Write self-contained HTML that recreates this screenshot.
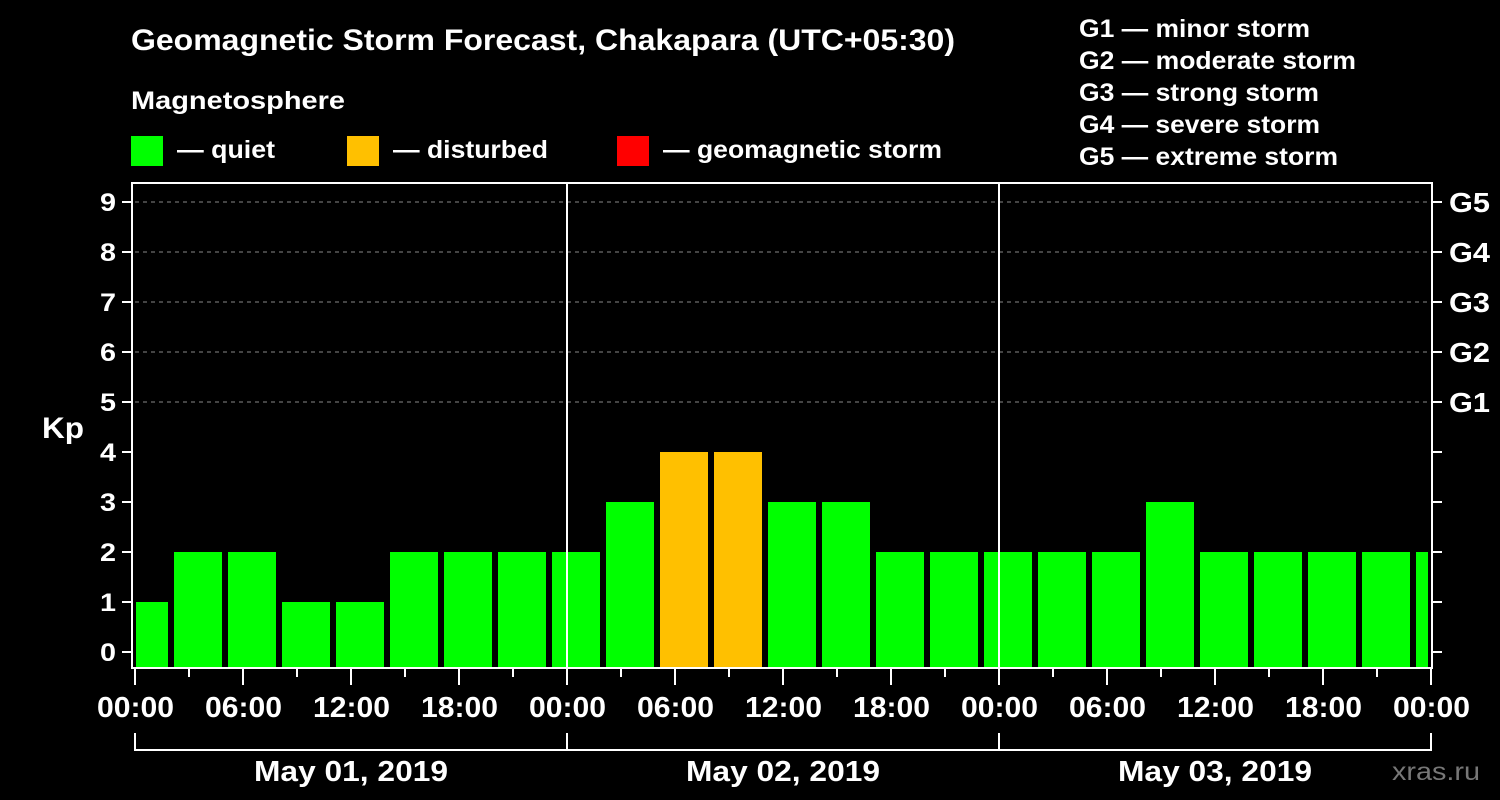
<!DOCTYPE html>
<html><head><meta charset="utf-8"><style>
html,body{margin:0;padding:0;background:#000;}
svg{display:block;font-family:"Liberation Sans",Arial,sans-serif;font-weight:bold;}
</style></head><body>
<svg id="c" width="1500" height="800" viewBox="0 0 1500 800">
<rect width="1500" height="800" fill="#000"/>
<text x="131" y="50" fill="#fff" font-size="30" textLength="824" lengthAdjust="spacingAndGlyphs">Geomagnetic Storm Forecast, Chakapara (UTC+05:30)</text>
<text x="131" y="109" fill="#fff" font-size="25" textLength="214" lengthAdjust="spacingAndGlyphs">Magnetosphere</text>
<g><rect x="131" y="136" width="32" height="30" fill="#00ff00"/><text x="177" y="158" fill="#fff" font-size="25" textLength="98" lengthAdjust="spacingAndGlyphs">— quiet</text></g>
<g><rect x="347" y="136" width="32" height="30" fill="#ffc000"/><text x="393" y="158" fill="#fff" font-size="25" textLength="155" lengthAdjust="spacingAndGlyphs">— disturbed</text></g>
<g><rect x="617" y="136" width="32" height="30" fill="#ff0000"/><text x="663" y="158" fill="#fff" font-size="25" textLength="279" lengthAdjust="spacingAndGlyphs">— geomagnetic storm</text></g>
<g fill="#fff" font-size="25">
<text x="1079" y="37" textLength="231" lengthAdjust="spacingAndGlyphs">G1 — minor storm</text>
<text x="1079" y="69" textLength="277" lengthAdjust="spacingAndGlyphs">G2 — moderate storm</text>
<text x="1079" y="101" textLength="240" lengthAdjust="spacingAndGlyphs">G3 — strong storm</text>
<text x="1079" y="133" textLength="241" lengthAdjust="spacingAndGlyphs">G4 — severe storm</text>
<text x="1079" y="165" textLength="259" lengthAdjust="spacingAndGlyphs">G5 — extreme storm</text>
</g>
<text x="42" y="438" fill="#fff" font-size="30" textLength="42" lengthAdjust="spacingAndGlyphs">Kp</text>
<text x="1392" y="780" fill="#777" font-size="25" font-weight="normal" textLength="88" lengthAdjust="spacingAndGlyphs">xras.ru</text>
<g id="grid"></g><g id="bars"></g><g id="axes"></g>
</svg>
<script>
const kpValues=[1,2,2,1,1,2,2,2,2,3,4,4,3,3,2,2,2,2,2,3,2,2,2,2,2];
const yTicks=[0,1,2,3,4,5,6,7,8,9];
const gLabels=["G1","G2","G3","G4","G5"];
const gLevels=[5,6,7,8,9];
const xTickLabels=["00:00","06:00","12:00","18:00","00:00","06:00","12:00","18:00","00:00","06:00","12:00","18:00","00:00"];
const dayLabels=["May 01, 2019","May 02, 2019","May 03, 2019"];
const NS="http://www.w3.org/2000/svg";
const X0=135,X1=1430,Y0=668,TOP=183;
const xs=h=>X0+h*18;
const ys=v=>652-v*50;
function mk(t,a,p){const e=document.createElementNS(NS,t);for(const k in a)e.setAttribute(k,a[k]);p.appendChild(e);return e;}
const grid=document.getElementById('grid'),bars=document.getElementById('bars'),axes=document.getElementById('axes');
gLevels.forEach(v=>{const l=mk('line',{x1:X0,x2:X1,y1:ys(v),y2:ys(v),stroke:'#888','stroke-width':1,'stroke-dasharray':'4,4'},grid);

});
kpValues.forEach((v,i)=>{let a=xs(-1+3*i)+3,b=a+48;a=Math.max(a,X0+1);b=Math.min(b,X1-2);if(b<=a)return;
const r=mk('rect',{x:a,y:ys(v),width:b-a,height:Y0-ys(v),fill:v>=5?'#ff0000':v>=4?'#ffc000':'#00ff00'},bars);

});
[1,2].forEach(d=>{const l=mk('line',{x1:xs(24*d),x2:xs(24*d),y1:TOP,y2:Y0,stroke:'#fff','stroke-width':2},axes);

});
const fr=mk('rect',{x:132,y:TOP,width:1300,height:Y0-TOP,fill:'none',stroke:'#fff','stroke-width':2},axes);


yTicks.forEach(v=>{mk('line',{x1:122,x2:132,y1:ys(v),y2:ys(v),stroke:'#fff','stroke-width':2},axes);
mk('line',{x1:1432,x2:1442,y1:ys(v),y2:ys(v),stroke:'#fff','stroke-width':2},axes);
const t=mk('text',{x:116,y:ys(v)+9,fill:'#fff','font-size':25,'text-anchor':'end',textLength:16,lengthAdjust:'spacingAndGlyphs'},axes);t.textContent=v;

});
gLevels.forEach((v,i)=>{const t=mk('text',{x:1449,y:ys(v)+10,fill:'#fff','font-size':28,textLength:41,lengthAdjust:'spacingAndGlyphs'},axes);t.textContent=gLabels[i];

});
for(let h=0;h<=72;h+=3){const maj=h%6===0;mk('line',{x1:xs(h),x2:xs(h),y1:Y0,y2:Y0+(maj?17:9),stroke:'#fff','stroke-width':2},axes);}
xTickLabels.forEach((s,i)=>{const t=mk('text',{x:xs(6*i)-38,y:717,fill:'#fff','font-size':29,textLength:77,lengthAdjust:'spacingAndGlyphs'},axes);t.textContent=s;

});
mk('line',{x1:X0,x2:X1,y1:750,y2:750,stroke:'#fff','stroke-width':2},axes);
for(let d=0;d<=3;d++)mk('line',{x1:xs(24*d),x2:xs(24*d),y1:733,y2:751,stroke:'#fff','stroke-width':2},axes);
dayLabels.forEach((s,i)=>{const t=mk('text',{x:xs(24*i+12)-97,y:781,fill:'#fff','font-size':29,textLength:194,lengthAdjust:'spacingAndGlyphs'},axes);t.textContent=s;

});
</script>
</body></html>
